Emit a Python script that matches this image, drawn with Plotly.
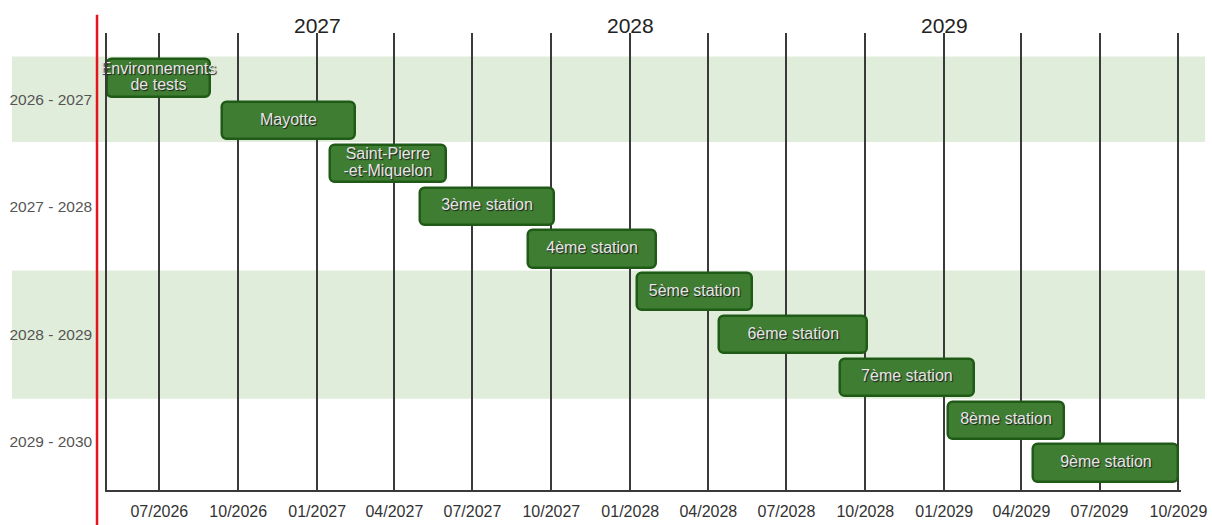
import pandas as pd
import plotly.graph_objects as go

# ---- data ----
tasks = ["Environnements<br>de tests", "Mayotte", "Saint-Pierre<br>-et-Miquelon",
         "3ème station", "4ème station", "5ème station", "6ème station",
         "7ème station", "8ème station", "9ème station"]
starts = ["2026-05-01", "2026-09-12", "2027-01-16", "2027-05-01", "2027-09-04",
          "2028-01-09", "2028-04-14", "2028-09-01", "2029-01-05", "2029-04-15"]
ends = ["2026-08-29", "2027-02-14", "2027-05-31", "2027-10-04", "2028-01-31",
        "2028-05-22", "2028-10-03", "2029-02-05", "2029-05-21", "2029-10-01"]
periods = ["2026 - 2027", "2027 - 2028", "2028 - 2029", "2029 - 2030"]
period_first = [0, 2, 5, 8]   # first task slot of each period
period_last = [1, 4, 7, 9]    # last task slot of each period
period_shaded = [True, False, True, False]
tick_dates = ["2026-07-01", "2026-10-01", "2027-01-01", "2027-04-01", "2027-07-01",
              "2027-10-01", "2028-01-01", "2028-04-01", "2028-07-01", "2028-10-01",
              "2029-01-01", "2029-04-01", "2029-07-01", "2029-10-01"]
tick_labels = ["07/2026", "10/2026", "01/2027", "04/2027", "07/2027", "10/2027",
               "01/2028", "04/2028", "07/2028", "10/2028", "01/2029", "04/2029",
               "07/2029", "10/2029"]
years = ["2027", "2028", "2029"]
year_dates = ["2027-01-01", "2028-01-01", "2029-01-01"]
x_start, x_end = "2026-05-01", "2029-10-04"

FONT = "Liberation Sans, Arial, sans-serif"
BAR_FILL = "#3f7d32"
BAR_LINE = "#1f5a17"
BAND = "#e1eddb"

s = pd.to_datetime(starts)
e = pd.to_datetime(ends)
dur_ms = [(b - a).total_seconds() * 1000 for a, b in zip(s, e)]
slots = list(range(len(tasks)))

fig = go.Figure()
fig.add_trace(go.Bar(
    y=slots, x=dur_ms, base=starts, orientation="h", width=0.87,
    marker=dict(color=BAR_FILL, line=dict(color=BAR_LINE, width=2.5), cornerradius=5),
    hoverinfo="skip", showlegend=False, cliponaxis=False,
))

# labels (each line placed separately for tight line spacing)
lx, ly, lt = [], [], []
for i, (t, a, b) in enumerate(zip(tasks, s, e)):
    lines = t.split("<br>")
    mid = a + (b - a) / 2
    n = len(lines)
    for k, ln in enumerate(lines):
        lx.append(mid)
        ly.append(i + (k - (n - 1) / 2) * 0.38)
        lt.append(ln)
fig.add_trace(go.Scatter(
    x=lx, y=ly, text=lt, mode="text", textposition="middle center",
    textfont=dict(family=FONT, size=16, color="#e6e6e6",
                  shadow="1px 1px 1px #1a1a1a"),
    hoverinfo="skip", showlegend=False, cliponaxis=False,
))

# shaded period bands
for f, l, sh in zip(period_first, period_last, period_shaded):
    if sh:
        fig.add_shape(type="rect", xref="paper", yref="y",
                      x0=-0.0885, x1=1.0224, y0=f - 0.5, y1=l + 0.5,
                      fillcolor=BAND, line_width=0, layer="below")

# red marker line
fig.add_shape(type="line", xref="paper", yref="paper", x0=-0.0093, x1=-0.0093,
              y0=-0.08, y1=1.04, line=dict(color="#e3161d", width=2.5))

# year labels
for yr, d in zip(years, year_dates):
    fig.add_annotation(x=d, y=1.0, xref="x", yref="paper", text=yr, showarrow=False,
                       yanchor="bottom", yshift=-6,
                       font=dict(family=FONT, size=21, color="#222222"))

period_centers = [(f + l) / 2 for f, l in zip(period_first, period_last)]

fig.update_layout(
    width=1212, height=525,
    margin=dict(l=107, r=31, t=33, b=35, autoexpand=False),
    paper_bgcolor="white", plot_bgcolor="rgba(0,0,0,0)",
    bargap=0,
    xaxis=dict(type="date", range=[x_start, x_end], tickvals=tick_dates,
               ticktext=tick_labels, showgrid=True, gridcolor="#3a3a3a", gridwidth=1.5,
               showline=True, linecolor="#3a3a3a", linewidth=1.5, ticks="",
               ticklabelstandoff=6, zeroline=False, automargin=False,
               tickfont=dict(family=FONT, size=16, color="#333333")),
    yaxis=dict(range=[9.63, -1.05], tickvals=period_centers, ticktext=periods,
               showgrid=False, zeroline=False, showline=True, linecolor="#3a3a3a",
               linewidth=1.5, ticks="", ticklabelstandoff=10, automargin=False,
               tickfont=dict(family=FONT, size=15.5, color="#555555")),
    font=dict(family=FONT),
)

fig.write_html("out.html")
